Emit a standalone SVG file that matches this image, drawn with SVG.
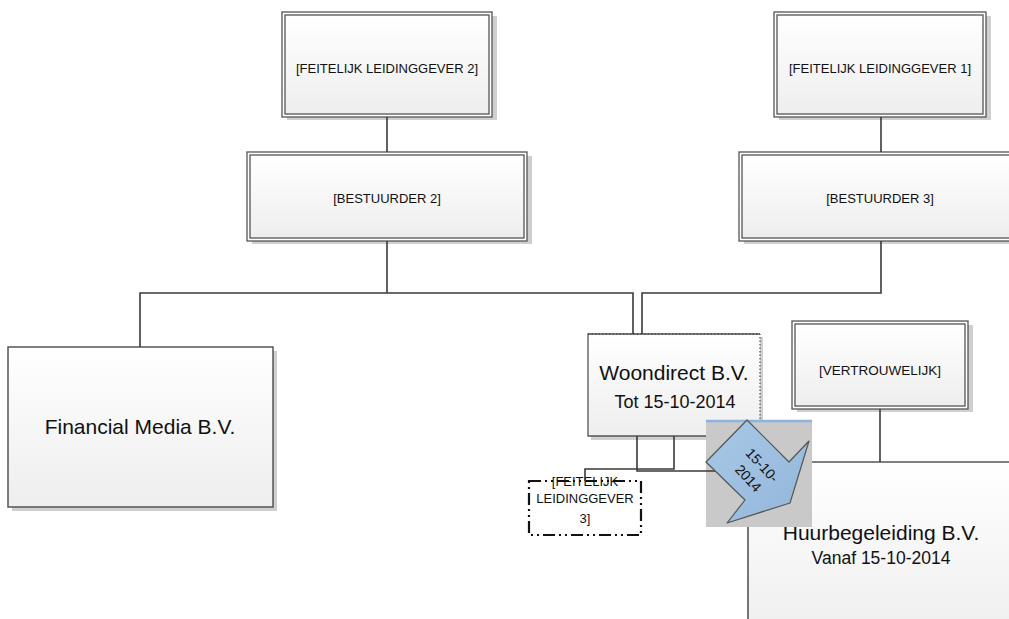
<svg xmlns="http://www.w3.org/2000/svg" width="1009" height="619" viewBox="0 0 1009 619">
<defs>
<linearGradient id="g" x1="0" y1="0" x2="0" y2="1">
<stop offset="0" stop-color="#ffffff"/>
<stop offset="1" stop-color="#eeeeee"/>
</linearGradient>
<linearGradient id="ga" x1="0" y1="0" x2="1" y2="1">
<stop offset="0" stop-color="#a9c8e6"/>
<stop offset="1" stop-color="#92b6da"/>
</linearGradient>
</defs>
<style>
.sh{fill:#cfcfcf}
.o{fill:#fff;stroke:#555;stroke-width:1.3}
.i{fill:url(#g);stroke:#555;stroke-width:1.3}
.b{fill:url(#g);stroke:#555;stroke-width:1.5}
.t{font-family:"Liberation Sans",Arial,sans-serif;fill:#111;text-anchor:middle}
.c{fill:none;stroke:#3a3a3a;stroke-width:1.6}
</style>

<g id="fl2">
<rect class="sh" x="287" y="16" width="210" height="104"/>
<rect class="o" x="282" y="12" width="210" height="105"/>
<rect class="i" x="285" y="15" width="204" height="99"/>
<text class="t" x="387" y="73" font-size="13">[FEITELIJK LEIDINGGEVER 2]</text>
</g>

<g id="fl1">
<rect class="sh" x="779" y="16" width="212" height="104"/>
<rect class="o" x="774" y="12" width="212" height="105"/>
<rect class="i" x="777" y="15" width="206" height="99"/>
<text class="t" x="880" y="73" font-size="13">[FEITELIJK LEIDINGGEVER 1]</text>
</g>

<g id="b2">
<rect class="sh" x="252" y="156" width="280" height="88"/>
<rect class="o" x="247" y="152" width="280" height="89"/>
<rect class="i" x="250" y="155" width="274" height="83"/>
<text class="t" x="387" y="203" font-size="13">[BESTUURDER 2]</text>
</g>

<g id="b3">
<rect class="sh" x="744" y="156" width="282" height="88"/>
<rect class="o" x="739" y="152" width="282" height="89"/>
<rect class="i" x="742" y="155" width="276" height="83"/>
<text class="t" x="880" y="203" font-size="13">[BESTUURDER 3]</text>
</g>

<g id="vertrouwelijk">
<rect class="sh" x="797" y="325" width="176" height="87"/>
<rect class="o" x="792" y="321" width="176" height="88"/>
<rect class="i" x="795" y="324" width="170" height="82"/>
<text class="t" x="880" y="375" font-size="13.5">[VERTROUWELIJK]</text>
</g>

<g id="financial">
<rect class="sh" x="12" y="351" width="265" height="160"/>
<rect class="b" x="8" y="347" width="265" height="160"/>
<text class="t" x="140" y="434" font-size="21">Financial Media B.V.</text>
</g>

<g id="woondirect">
<rect class="sh" x="591" y="337" width="172" height="103"/>
<rect x="588" y="334" width="172" height="102" fill="url(#g)"/>
<path d="M760 334 H588 V436 H760" fill="none" stroke="#555" stroke-width="1.3"/>
<path d="M588 334 H760 V436" fill="none" stroke="#333" stroke-width="1" stroke-dasharray="1.5 2"/>
<text class="t" x="674" y="380" font-size="21">Woondirect B.V.</text>
<text class="t" x="675" y="408" font-size="18">Tot 15-10-2014</text>
</g>

<g id="huurbegeleiding">
<rect x="748" y="462" width="290" height="180" fill="url(#g)"/>
<path d="M748 640 V462 H1020" fill="none" stroke="#555" stroke-width="1.6"/>
<text class="t" x="881" y="540" font-size="21">Huurbegeleiding B.V.</text>
<text class="t" x="881" y="564" font-size="17.5">Vanaf 15-10-2014</text>
</g>

<g id="fl3">
<rect x="529" y="481" width="112" height="54" fill="#fff" stroke="#111" stroke-width="2.2" stroke-dasharray="12 4 2 4 2 4"/>
<text class="t" x="585" y="486" font-size="13">[FEITELIJK</text>
<text class="t" x="585" y="503" font-size="13">LEIDINGGEVER</text>
<text class="t" x="585" y="523" font-size="13">3]</text>
</g>

<g id="datebox">
<rect x="706" y="421" width="106" height="106" fill="#c9c9c9"/>
<line x1="706" y1="421" x2="812" y2="421" stroke="#8db3e2" stroke-width="2.5"/>
</g>

<g id="connectors">
<path class="c" d="M387 117 V152"/>
<path class="c" d="M881 117 V152"/>
<path class="c" d="M140 347 V293 H633 V334"/>
<path class="c" d="M387 241 V293"/>
<path class="c" d="M881 241 V293 H642 V334"/>
<path class="c" d="M637 436 V471 H748"/>
<path class="c" d="M674 436 V469 H585 V481"/>
<path class="c" d="M880 409 V462"/>
</g>

<g id="arrow">
<polygon points="747,420 706,462 745,500 727,523 790,503 809,441 789,462" fill="url(#ga)" stroke="#555" stroke-width="1.2" stroke-linejoin="round"/>
<text class="t" transform="rotate(47 755 472)" x="755" y="467" font-size="14">15-10-</text>
<text class="t" transform="rotate(47 755 472)" x="755" y="486" font-size="14">2014</text>
</g>
</svg>
